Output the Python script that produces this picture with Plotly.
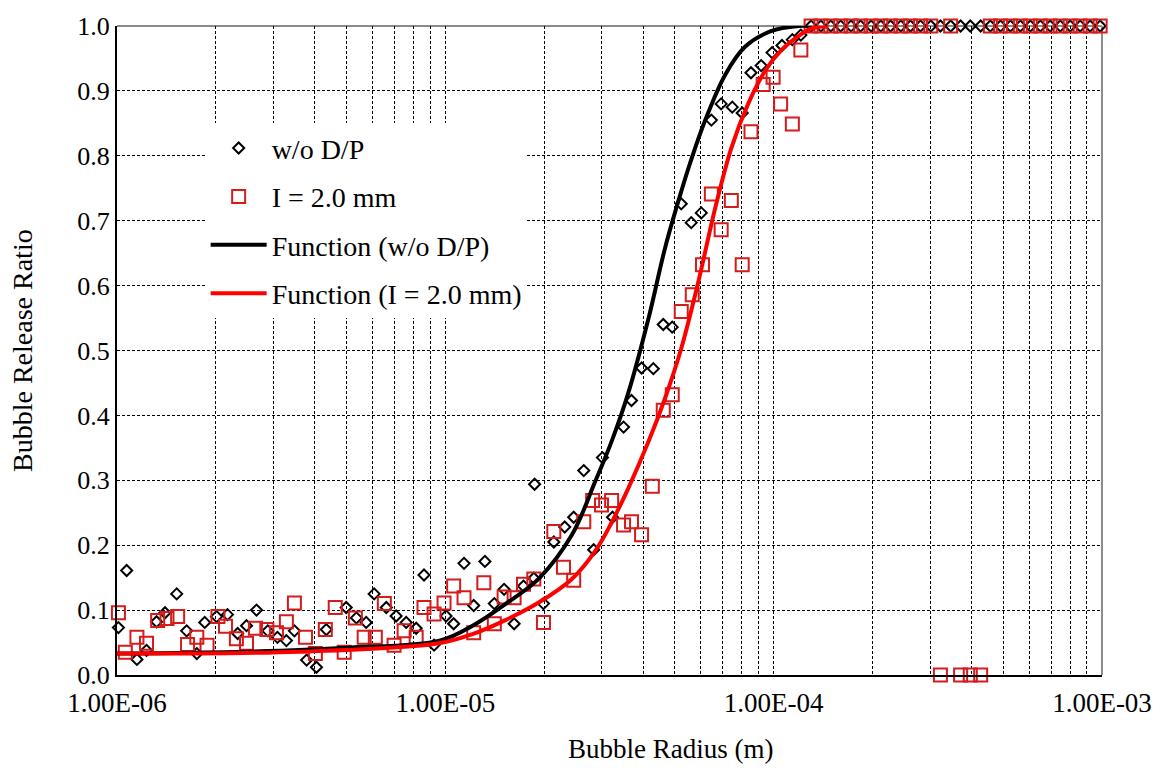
import plotly.graph_objects as go

# ---------------- data ----------------
# w/o D/P (black diamonds)
bx = [1.01e-6, 1.07e-6, 1.15e-6, 1.23e-6, 1.32e-6, 1.40e-6, 1.52e-6, 1.63e-6, 1.75e-6, 1.85e-6,
      2.01e-6, 2.17e-6, 2.33e-6, 2.48e-6, 2.66e-6, 2.88e-6, 3.08e-6, 3.28e-6, 3.47e-6, 3.78e-6,
      4.05e-6, 4.34e-6, 4.99e-6, 5.36e-6, 5.74e-6, 6.07e-6, 6.61e-6, 7.08e-6, 7.60e-6, 8.15e-6,
      8.61e-6, 9.24e-6, 1.005e-5, 1.06e-5, 1.14e-5, 1.22e-5, 1.32e-5, 1.41e-5, 1.51e-5, 1.62e-5,
      1.73e-5, 1.86e-5, 1.87e-5, 1.99e-5, 2.14e-5, 2.31e-5, 2.46e-5, 2.64e-5, 2.83e-5, 3.01e-5,
      3.23e-5, 3.49e-5, 3.69e-5, 3.96e-5, 4.30e-5, 4.61e-5, 4.91e-5, 5.23e-5, 5.61e-5, 6.02e-5,
      6.46e-5, 6.92e-5, 7.48e-5, 8.02e-5, 8.53e-5, 9.16e-5, 9.89e-5, 1.06e-4, 1.14e-4, 1.21e-4,
      1.30e-4, 1.393e-4, 1.493e-4, 1.60e-4, 1.72e-4, 1.84e-4, 1.98e-4, 2.12e-4, 2.27e-4, 2.44e-4,
      2.61e-4, 2.80e-4, 3.01e-4, 3.22e-4, 3.46e-4, 3.71e-4, 3.97e-4, 4.27e-4, 4.57e-4, 4.91e-4,
      5.26e-4, 5.64e-4, 6.05e-4, 6.49e-4, 6.95e-4, 7.46e-4, 8.00e-4, 8.58e-4, 9.20e-4, 9.87e-4]
by = [0.073, 0.161, 0.024, 0.038, 0.082, 0.096, 0.125, 0.068, 0.033, 0.081,
      0.090, 0.093, 0.064, 0.076, 0.100, 0.068, 0.058, 0.053, 0.068, 0.023,
      0.012, 0.070, 0.104, 0.088, 0.081, 0.125, 0.104, 0.091, 0.081, 0.072,
      0.154, 0.046, 0.091, 0.079, 0.172, 0.107, 0.175, 0.110, 0.132, 0.079,
      0.137, 0.149, 0.294, 0.110, 0.205, 0.228, 0.243, 0.315, 0.193, 0.335,
      0.243, 0.382, 0.423, 0.473, 0.472, 0.540, 0.536, 0.726, 0.697, 0.712,
      0.855, 0.880, 0.875, 0.866, 0.928, 0.939, 0.959, 0.970, 0.979, 0.986,
      1.0, 1.0, 1.0, 1.0, 1.0, 1.0, 1.0, 1.0, 1.0, 1.0,
      1.0, 1.0, 1.0, 1.0, 1.0, 1.0, 1.0, 1.0, 1.0, 1.0,
      1.0, 1.0, 1.0, 1.0, 1.0, 1.0, 1.0, 1.0, 1.0, 1.0]

# I = 2.0 mm (red squares)
rx = [1.01e-6, 1.06e-6, 1.15e-6, 1.23e-6, 1.33e-6, 1.42e-6, 1.53e-6, 1.64e-6, 1.75e-6, 1.88e-6,
      2.03e-6, 2.14e-6, 2.31e-6, 2.48e-6, 2.64e-6, 2.86e-6, 3.06e-6, 3.28e-6, 3.47e-6, 3.75e-6,
      4.02e-6, 4.31e-6, 4.62e-6, 4.92e-6, 5.32e-6, 5.66e-6, 6.12e-6, 6.52e-6, 6.98e-6, 7.49e-6,
      8.15e-6, 8.61e-6, 9.24e-6, 9.91e-6, 1.06e-5, 1.14e-5, 1.22e-5, 1.31e-5, 1.41e-5, 1.51e-5,
      1.62e-5, 1.73e-5, 1.86e-5, 1.99e-5, 2.14e-5, 2.29e-5, 2.46e-5, 2.64e-5, 2.81e-5, 2.99e-5,
      3.21e-5, 3.49e-5, 3.69e-5, 3.96e-5, 4.27e-5, 4.61e-5, 4.91e-5, 5.23e-5, 5.65e-5, 6.07e-5,
      6.46e-5, 6.92e-5, 7.43e-5, 8.02e-5, 8.53e-5, 9.29e-5, 9.96e-5, 1.05e-4, 1.14e-4, 1.21e-4,
      1.30e-4, 1.393e-4, 1.493e-4, 1.60e-4, 1.72e-4, 1.84e-4, 1.98e-4, 2.12e-4, 2.27e-4, 2.44e-4,
      2.61e-4, 2.80e-4, 3.01e-4, 3.22e-4, 3.46e-4, 3.71e-4, 3.97e-4, 4.27e-4, 4.57e-4, 4.91e-4,
      5.26e-4, 5.64e-4, 6.05e-4, 6.49e-4, 6.95e-4, 7.46e-4, 8.00e-4, 8.58e-4, 9.20e-4, 9.87e-4]
ry = [0.096, 0.035, 0.058, 0.049, 0.084, 0.087, 0.090, 0.047, 0.058, 0.046,
      0.090, 0.075, 0.056, 0.049, 0.072, 0.070, 0.065, 0.082, 0.111, 0.058,
      0.033, 0.070, 0.104, 0.035, 0.088, 0.058, 0.058, 0.110, 0.046, 0.068,
      0.058, 0.104, 0.094, 0.111, 0.137, 0.119, 0.065, 0.142, 0.079, 0.120,
      0.119, 0.140, 0.148, 0.081, 0.221, 0.166, 0.146, 0.236, 0.269, 0.262,
      0.269, 0.231, 0.236, 0.216, 0.291, 0.408, 0.432, 0.560, 0.586, 0.632,
      0.741, 0.686, 0.731, 0.632, 0.837, 0.910, 0.921, 0.880, 0.849, 0.963,
      1.0, 1.0, 1.0, 1.0, 1.0, 1.0, 1.0, 1.0, 1.0, 1.0,
      1.0, 1.0, 1.0, 0.0, 1.0, 0.0, 0.0, 0.0, 1.0, 1.0,
      1.0, 1.0, 1.0, 1.0, 1.0, 1.0, 1.0, 1.0, 1.0, 1.0]

# fitted functions
fbx = [1.0e-6, 2.5e-6, 5.0e-6, 9.6e-6, 1.21e-5, 1.53e-5, 1.93e-5, 2.43e-5, 2.87e-5, 3.21e-5,
       3.61e-5, 4.16e-5, 4.68e-5, 5.23e-5, 5.61e-5, 6.19e-5, 7.12e-5, 8.18e-5, 9.81e-5, 1.19e-4,
       1.46e-4]
fby = [0.033, 0.036, 0.042, 0.053, 0.076, 0.110, 0.149, 0.216, 0.300, 0.360,
       0.435, 0.550, 0.660, 0.745, 0.794, 0.855, 0.925, 0.968, 0.992, 1.0,
       1.0]

frx = [1.0e-6, 3.6e-6, 9.57e-6, 1.21e-5, 1.53e-5, 1.93e-5, 2.43e-5, 2.87e-5, 3.21e-5, 3.61e-5,
       4.16e-5, 4.68e-5, 5.23e-5, 5.89e-5, 6.64e-5, 7.43e-5, 8.36e-5, 9.42e-5, 1.052e-4, 1.186e-4,
       1.30e-4, 1.46e-4]
fry = [0.033, 0.036, 0.049, 0.063, 0.085, 0.112, 0.148, 0.192, 0.235, 0.288,
       0.360, 0.428, 0.503, 0.605, 0.720, 0.812, 0.880, 0.931, 0.962, 0.984,
       0.996, 1.0]

xtick_vals = [1e-6, 1e-5, 1e-4, 1e-3]
xtick_text = ["1.00E-06", "1.00E-05", "1.00E-04", "1.00E-03"]
minor_vals = [m * 10.0 ** e for e in (-6, -5, -4) for m in range(2, 10)]

FONT = "Liberation Serif"
SQ_RED = "#d41c1c"

fig = go.Figure()
fig.add_trace(go.Scatter(
    x=bx, y=by, mode="markers", name="w/o D/P", legendgroup="a",
    marker=dict(symbol="diamond-open", size=8.5, color="black", line=dict(width=2, color="black")),
    cliponaxis=False))
fig.add_trace(go.Scatter(
    x=rx, y=ry, mode="markers", name="I = 2.0 mm", legendgroup="b",
    marker=dict(symbol="square-open", size=13, color=SQ_RED, line=dict(width=2, color=SQ_RED)),
    cliponaxis=False))
fig.add_trace(go.Scatter(
    x=fbx, y=fby, mode="lines", name="Function (w/o D/P)", legendgroup="c",
    line=dict(color="black", width=4, shape="spline", smoothing=1.0)))
fig.add_trace(go.Scatter(
    x=frx, y=fry, mode="lines", name="Function (I = 2.0 mm)", legendgroup="d",
    line=dict(color="#ff0000", width=4, shape="spline", smoothing=1.0)))

grid = dict(gridcolor="black", gridwidth=1, griddash="3px,2px")

fig.update_layout(
    width=1164, height=771, autosize=False,
    margin=dict(l=117, r=59, t=18, b=96),
    paper_bgcolor="white", plot_bgcolor="white",
    font=dict(family=FONT, size=26, color="black"),
    showlegend=True,
    legend=dict(x=0.090, y=0.850, xanchor="left", yanchor="top",
                bgcolor="white", borderwidth=0, itemwidth=56,
                traceorder="grouped", tracegroupgap=9,
                font=dict(family=FONT, size=28, color="black")),
    xaxis=dict(type="log", range=[-6, -3], tickmode="array",
               tickvals=xtick_vals, ticktext=xtick_text,
               showline=True, linecolor="black", linewidth=2, ticks="",
               showgrid=True, **grid,
               minor=dict(tickmode="array", tickvals=minor_vals, showgrid=True,
                          gridcolor="black", gridwidth=1, griddash="3px,2px", ticks=""),
               tickfont=dict(family=FONT, size=27),
               ticklabelstandoff=3,
               zeroline=False),
    yaxis=dict(range=[0, 1], dtick=0.1, tickformat=".1f",
               showline=True, linecolor="black", linewidth=2, ticks="",
               showgrid=True, **grid,
               tickfont=dict(family=FONT, size=26),
               zeroline=False),
    annotations=[
        dict(text="Bubble Radius (m)", xref="paper", yref="paper", x=0.562, y=-0.114,
             xanchor="center", yanchor="middle", showarrow=False,
             font=dict(family=FONT, size=27, color="black")),
        dict(text="Bubble Release Ratio", xref="paper", yref="paper", x=-0.096, y=0.5,
             xanchor="center", yanchor="middle", showarrow=False, textangle=-90,
             font=dict(family=FONT, size=28, color="black")),
    ],
)

# gray top and right frame lines
fig.add_shape(type="line", xref="paper", yref="paper", x0=0, x1=1, y0=1, y1=1,
              line=dict(color="#8c8c8c", width=2), layer="below")
fig.add_shape(type="line", xref="paper", yref="paper", x0=1, x1=1, y0=0, y1=1,
              line=dict(color="#8c8c8c", width=2), layer="below")

fig.write_html("out.html")
